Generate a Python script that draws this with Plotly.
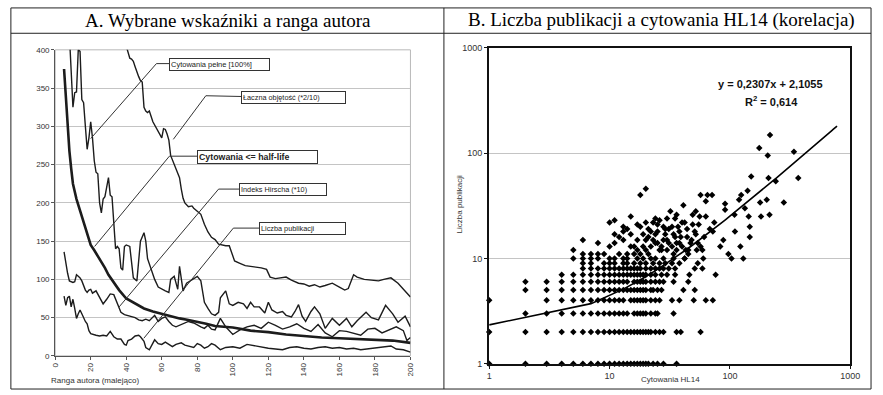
import numpy as np
import plotly.graph_objects as go

# ---------------- Panel A data (rank of author vs indicators) ----------------
half_rank = [5, 6, 7, 8, 9, 10, 12, 14, 16, 18, 20, 22, 25, 28, 30, 33, 36, 40, 45, 50, 55, 60, 65, 70, 75,
             80, 85, 90, 95, 100, 110, 120, 130, 140, 150, 160, 170, 180, 190, 200]
half_life = [375, 335, 295, 268, 245, 225, 205, 190, 172, 158, 145, 138, 127, 115, 106, 96, 86, 75, 68, 62, 58,
             55, 52, 49, 47, 44, 42, 39, 38, 37, 33, 31, 28, 26, 24, 23, 22, 21, 20, 17]

pub_rank = [5, 6, 7, 8, 9, 10, 11, 12, 13, 14, 15, 16, 17, 18, 19, 20, 21, 23, 25, 27, 29, 31, 33, 35, 37, 39,
            40, 41, 43, 45, 47, 48, 50, 51, 53, 55, 56, 58, 60, 62, 64, 66, 68, 71, 73, 75, 78, 80, 82, 84, 86,
            88, 90, 93, 96, 100, 104, 108, 112, 116, 120, 124, 128, 132, 136, 140, 144, 148, 152, 156, 160, 164,
            168, 172, 176, 180, 184, 189, 192, 196, 200]
pub_count_rank = [78, 66, 76, 78, 64, 74, 62, 49, 55, 60, 55, 49, 45, 42, 33, 29, 28, 27, 26, 27, 26, 32, 25, 22,
                  22, 15, 14, 20, 22, 26, 27, 25, 19, 11, 8, 17, 21, 16, 15, 18, 15, 12, 15, 17, 14, 13, 11, 16,
                  14, 10, 12, 16, 14, 8, 11, 12, 10, 15, 13, 12, 10, 9, 8, 11, 12, 10, 9, 11, 12, 10, 11, 9, 10,
                  8, 9, 10, 11, 13, 9, 8, 5]

hir_rank = [5, 6, 7, 8, 9, 10, 11, 12, 13, 14, 15, 16, 17, 18, 19, 20, 21, 23, 25, 27, 29, 31, 33, 35, 37, 39,
            41, 43, 45, 47, 49, 51, 53, 56, 58, 60, 62, 64, 66, 68, 70, 72, 75, 78, 80, 82, 84, 86, 88, 90, 93,
            96, 100, 104, 108, 112, 116, 120, 124, 128, 132, 136, 140, 144, 148, 152, 156, 160, 164, 168, 172,
            176, 180, 184, 188, 192, 196, 198, 200]
hirsch = [136, 120, 108, 98, 97, 96, 97, 106, 104, 102, 98, 91, 86, 83, 86, 87, 82, 85, 76, 68, 74, 81, 80, 68,
          57, 54, 53, 52, 50, 47, 46, 48, 46, 53, 45, 49, 51, 45, 40, 38, 40, 43, 45, 43, 40, 38, 36, 40, 35, 34,
          49, 38, 28, 34, 38, 40, 36, 44, 40, 35, 38, 42, 36, 32, 41, 30, 25, 33, 32, 30, 27, 35, 36, 30, 34, 38,
          33, 20, 24]

cit_rank = [8, 9, 10, 11, 12, 13, 14, 15, 16, 17, 18, 19, 20, 21, 22, 23, 24, 25, 26, 27, 28, 30, 31, 32, 33, 34,
            35, 36, 37, 38, 39, 40, 42, 43, 44, 46, 48, 50, 51, 52, 54, 56, 58, 60, 62, 64, 65, 67, 69, 70, 72, 74,
            76, 78, 80, 82, 84, 86, 88, 90, 92, 93, 96, 98, 100, 103, 106, 108, 110, 112, 115, 118, 120, 122, 125,
            128, 130, 133, 135, 137, 139, 141, 144, 146, 149, 152, 156, 160, 164, 167, 170, 175, 178, 182, 186,
            190, 193, 197, 200]
cit_full = [420, 380, 325, 344, 345, 400, 398, 335, 331, 300, 270, 285, 306, 285, 255, 240, 238, 200, 187, 205,
            208, 233, 210, 208, 175, 140, 143, 140, 115, 112, 143, 145, 143, 120, 102, 98, 150, 161, 150, 127, 112,
            100, 90, 87, 85, 83, 100, 104, 87, 117, 85, 95, 98, 100, 104, 98, 70, 62, 55, 53, 57, 76, 85, 68, 66,
            70, 68, 62, 70, 64, 64, 56, 70, 60, 56, 58, 53, 51, 58, 67, 52, 45, 58, 64, 55, 36, 49, 40, 49, 38, 46,
            57, 50, 47, 66, 55, 44, 52, 38]

vol_rank = [40, 41, 42, 43, 44, 45, 46, 47, 48, 49, 50, 51, 52, 53, 55, 57, 58, 60, 61, 62, 63, 64, 65, 66, 67,
            69, 70, 71, 72, 73, 75, 77, 78, 80, 82, 84, 86, 88, 90, 92, 94, 96, 98, 100, 101, 104, 107, 110, 113,
            116, 119, 121, 124, 127, 130, 133, 137, 140, 143, 146, 149, 152, 156, 160, 163, 165, 168, 170, 174,
            178, 182, 185, 189, 193, 197, 200]
volume = [405, 395, 389, 388, 385, 378, 370, 365, 360, 358, 325, 320, 318, 320, 306, 298, 293, 285, 297, 296, 290,
          282, 262, 256, 251, 238, 233, 218, 206, 200, 195, 196, 193, 189, 185, 172, 162, 155, 152, 146, 145, 144,
          144, 130, 124, 121, 118, 117, 116, 115, 113, 103, 101, 102, 103, 99, 95, 94, 91, 93, 90, 92, 95, 90, 86,
          88, 106, 103, 100, 99, 98, 100, 102, 95, 84, 77]

rank_ticks = [0, 20, 40, 60, 80, 100, 120, 140, 160, 180, 200]

# ---------------- Panel B data (publications vs HL14 citations) ----------------
cit_at_pub1 = [1, 2, 3, 4, 5, 6, 7, 8, 9, 10, 11, 12, 13, 14, 15, 16, 17, 18, 19, 20, 21, 23, 25, 28, 36]
cit_at_pub2 = [1, 2, 3, 4, 5, 6, 7, 8, 9, 10, 11, 12, 13, 14, 15, 16, 17, 18, 19, 20, 21, 22, 24, 26, 28, 36, 39, 57]
cit_at_pub3 = [2, 3, 4, 5, 6, 7, 8, 9, 10, 11, 12, 13, 14, 16, 17, 18, 19, 20, 22, 24, 25, 34]
cit_at_pub4 = [1, 3, 4, 5, 6, 7, 8, 9, 10, 11, 12, 13, 15, 16, 17, 18, 19, 20, 22, 24, 26, 33, 38, 50, 63, 72]
cit_at_pub5 = [2, 3, 4, 5, 6, 7, 8, 9, 10, 11, 12, 13, 14, 15, 16, 17, 18, 19, 20, 22, 23, 25, 27, 41, 51]
cit_at_pub6 = [2, 3, 4, 5, 6, 7, 8, 9, 10, 11, 12, 13, 14, 16, 17, 18, 19, 20, 22, 24, 26, 28, 34, 45]
cit_at_pub7 = [4, 5, 6, 7, 8, 9, 10, 11, 12, 13, 14, 15, 16, 17, 18, 19, 20, 22, 24, 27, 30, 35, 46, 76]
cit_at_pub8 = [6, 7, 8, 9, 10, 11, 12, 13, 14, 15, 16, 17, 18, 20, 22, 24, 26, 28, 31, 35, 51, 59]
cit_at_pub9 = [6, 7, 9, 10, 11, 13, 14, 16, 18, 20, 23, 26, 29, 33, 38, 54]
cit_at_pub10 = [5, 6, 7, 8, 10, 11, 13, 14, 17, 19, 22, 24, 28, 34, 42, 60, 103, 129]

upper_cit = [5, 6, 6, 7, 8, 8, 10, 11, 10, 11, 11, 13, 13, 15, 15, 15, 14, 17, 18, 20, 20, 19, 21, 23, 23, 17,
             19, 16, 18, 20, 22, 21, 12, 24, 25, 25, 26, 24, 25, 27, 28, 30, 30, 34, 33, 32, 40, 42, 38, 36, 38,
             36, 41, 43, 45, 45, 42, 49, 49, 52, 51, 52, 54, 57, 59, 53, 56, 63, 63, 57, 65, 71, 72, 74, 83, 88,
             91, 91, 97, 109, 110, 119, 122, 124, 133, 140, 143, 146, 146, 150, 175, 178, 181, 202, 206, 209, 213,
             215, 240, 280, 340, 369, 27, 29, 31, 35, 40, 44, 47, 28, 35, 33,
             12, 14, 16, 18, 21, 22, 26, 29, 31, 34, 37, 39, 44, 48, 55, 61, 68, 30, 36, 24, 20, 17, 13, 9]
upper_pub = [12, 15, 11, 11, 14, 11, 22, 23, 13, 14, 17, 18, 15, 25, 17, 13, 11, 12, 40, 46, 22, 17, 19, 22, 15, 15,
             13, 11, 11, 12, 13, 11, 11, 24, 21, 18, 23, 14, 14, 12, 15, 15, 12, 11, 20, 28, 22, 22, 18, 14, 14,
             12, 32, 12, 12, 11, 10, 21, 26, 28, 18, 17, 14, 13, 12, 12, 25, 25, 35, 40, 40, 40, 18, 22, 13, 15,
             33, 29, 11, 26, 18, 36, 13, 40, 30, 44, 25, 20, 16, 60, 112, 34, 25, 36, 95, 58, 26, 149, 54, 34, 103,
             58, 13, 17, 19, 16, 13, 16, 14, 20, 24, 13,
             16, 19, 13, 20, 16, 18, 12, 19, 14, 17, 20, 16, 19, 15, 21, 16, 19, 24, 26, 17, 15, 21, 20, 11]

trend_slope = 0.2307
trend_intercept = 2.1055
log_ticks = [1, 10, 100, 1000]

# ---------------- build figure ----------------
W, H = 883, 395
def fx(x): return x / W
def fy(y): return 1 - y / H

FONT = "Liberation Sans, Arial, sans-serif"
SERIF = "Liberation Serif, Times New Roman, serif"
LC = "#1c1c1c"

fig = go.Figure()

def add_line(xv, yv, width):
    fig.add_trace(go.Scatter(x=xv, y=yv, mode="lines", line=dict(color=LC, width=width),
                             xaxis="x", yaxis="y", showlegend=False, hoverinfo="skip"))

add_line(vol_rank, volume, 1.4)
add_line(cit_rank, cit_full, 1.4)
add_line(hir_rank, hirsch, 1.4)
add_line(pub_rank, pub_count_rank, 1.4)
add_line(half_rank, half_life, 2.6)

sc_x, sc_y = [], []
for yv, xs in [(1, cit_at_pub1), (2, cit_at_pub2), (3, cit_at_pub3), (4, cit_at_pub4), (5, cit_at_pub5),
               (6, cit_at_pub6), (7, cit_at_pub7), (8, cit_at_pub8), (9, cit_at_pub9), (10, cit_at_pub10)]:
    sc_x += xs
    sc_y += [yv] * len(xs)
sc_x += upper_cit
sc_y += upper_pub

fig.add_trace(go.Scatter(x=sc_x, y=sc_y, mode="markers", cliponaxis=False,
                         marker=dict(symbol="diamond", size=5, color="black"),
                         xaxis="x2", yaxis="y2", showlegend=False, hoverinfo="skip"))

trend_x = np.arange(1, 776, 6)
trend_y = trend_slope * trend_x + trend_intercept
fig.add_trace(go.Scatter(x=trend_x, y=trend_y, mode="lines", line=dict(color="black", width=1.6),
                         xaxis="x2", yaxis="y2", showlegend=False, hoverinfo="skip"))

tickfontA = dict(family=FONT, size=8, color="#333")
tickfontB = dict(family=FONT, size=9, color="#333")

fig.update_layout(
    width=W, height=H, margin=dict(l=0, r=0, t=0, b=0), autosize=False,
    paper_bgcolor="white", plot_bgcolor="white",
    xaxis=dict(domain=[fx(52), fx(413)], range=[0, 200], tickvals=rank_ticks, tickangle=-90,
               showline=True, linecolor="#555", linewidth=1, ticks="outside", ticklen=3, tickcolor="#555",
               showgrid=False, zeroline=False, tickfont=tickfontA, anchor="y"),
    yaxis=dict(domain=[fy(360), fy(46)], range=[0, 400], dtick=50, showgrid=True, gridcolor="#c4c4c4",
               showline=True, linecolor="#555", linewidth=1, ticks="outside", ticklen=3, tickcolor="#555",
               zeroline=False, tickfont=tickfontA, anchor="x"),
    xaxis2=dict(domain=[fx(493), fx(860)], type="log", range=[0, 3], tickvals=log_ticks,
                ticktext=[str(v) for v in log_ticks], showline=True, mirror=True, linecolor="#111",
                linewidth=2, ticks="outside", ticklen=3, tickcolor="#111", showgrid=False, zeroline=False,
                tickfont=tickfontB, anchor="y2"),
    yaxis2=dict(domain=[fy(368), fy(44)], type="log", range=[0, 3], tickvals=log_ticks,
                ticktext=[str(v) for v in log_ticks], showline=True, mirror=True, linecolor="#111",
                linewidth=2, ticks="outside", ticklen=3, tickcolor="#111", showgrid=True,
                gridcolor="#c4c4c4", zeroline=False, tickfont=tickfontB, anchor="x2"),
)

shapes = []
tl = dict(color="#222", width=1)
for (x0, y0, x1, y1) in [(7, 3, 881, 3), (7, 29, 881, 29), (7, 394, 881, 394), (7, 3, 7, 394),
                         (447, 3, 447, 394), (881, 3, 881, 394)]:
    shapes.append(dict(type="line", xref="paper", yref="paper", x0=fx(x0), y0=fy(y0), x1=fx(x1), y1=fy(y1),
                       line=tl))
shapes.append(dict(type="rect", xref="x domain", yref="y domain", x0=0, y0=0, x1=1, y1=1,
                   line=dict(color="#b8b8b8", width=1), layer="below"))
leaders = [
    [(64.3, 382), (57.0, 382), (20.0, 284)],
    [(105.3, 339), (84.8, 340), (66.5, 283)],
    [(80.3, 261), (64.3, 261), (22.2, 143)],
    [(103.6, 218), (92.0, 218), (36.0, 64)],
    [(115.2, 167), (100.3, 167), (49.9, 23)],
]
for pts in leaders:
    for (a, b) in zip(pts[:-1], pts[1:]):
        shapes.append(dict(type="line", xref="x", yref="y", x0=a[0], y0=a[1], x1=b[0], y1=b[1],
                           line=dict(color="#333", width=1)))
fig.update_layout(shapes=shapes)

def note(text, x, y, size, color="#333", family=FONT, **kw):
    d = dict(text=text, x=fx(x), y=fy(y), xref="paper", yref="paper", xanchor="center", yanchor="middle",
             showarrow=False, font=dict(family=family, size=size, color=color))
    d.update(kw)
    return d

ann = []
ann.append(note("A. Wybrane wskaźniki a ranga autora", 227.5, 15.5, 19, "black", SERIF))
ann.append(note("B. Liczba publikacji a cytowania HL14 (korelacja)", 668.5, 15.5, 19, "black", SERIF))

boxes = [
    ("Cytowania pełne [100%]", 218.5, 61, 97, 7.5, False),
    ("Łaczna objętość (*2/10)", 294.5, 95, 101, 7.3, False),
    ("Cytowania <= half-life", 257.5, 156, 117, 8.8, True),
    ("Indeks Hirscha (*10)", 283, 189, 84, 7.3, False),
    ("Liczba publikacji", 303.5, 229.5, 83, 7.3, False),
]
for (t, cx, cy, w, fs, bold) in boxes:
    ann.append(note(f"<b>{t}</b>" if bold else t, cx, cy, fs, "#222", width=w, align="left",
                    bgcolor="white", bordercolor="#333", borderwidth=1, borderpad=1))

ann.append(note("Ranga autora (malejąco)", 92, 385, 8))
ann.append(note("Cytowania HL14", 677, 384, 8))
ann.append(note("Liczba publikacji", 463, 205, 8, textangle=-90))
ann.append(note(f"<b>y = {str(trend_slope).replace('.', ',')}x + {str(trend_intercept).replace('.', ',')}</b>",
                779, 81, 11, "#111"))
ann.append(note("<b>R<sup>2</sup> = 0,614</b>", 780, 99, 11, "#111"))
fig.update_layout(annotations=ann)

post = (
    "var s=document.createElement('style');"
    "s.textContent='html,body{margin:0;padding:0;overflow:hidden;width:883px;height:395px;}"
    ".plotly-graph-div{position:fixed;left:0;top:0;}';"
    "document.head.appendChild(s);"
)
fig.write_html("out.html", config={"displayModeBar": False}, post_script=post)
